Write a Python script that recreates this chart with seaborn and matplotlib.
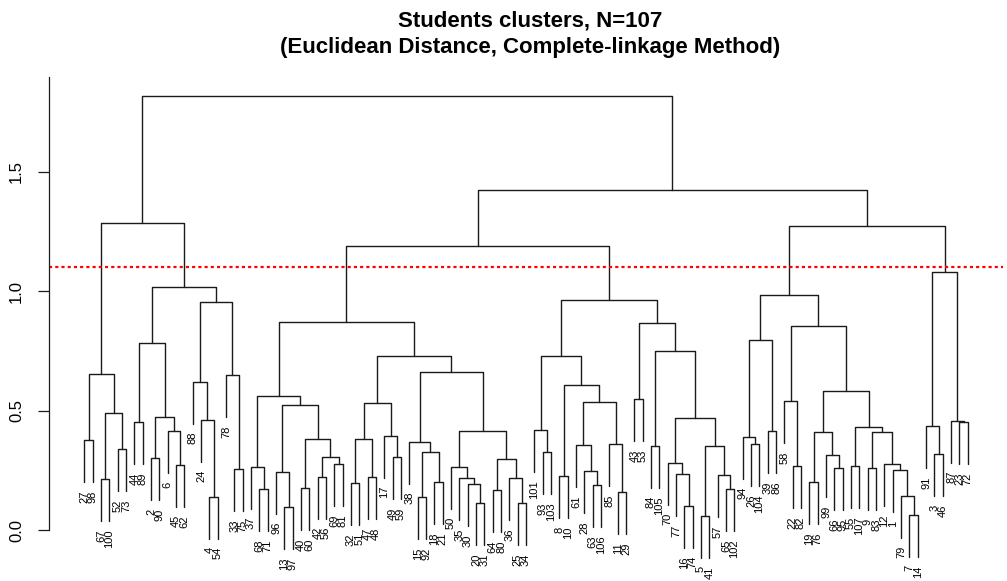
import numpy as np
import pandas as pd
import matplotlib
matplotlib.use("Agg")
import matplotlib.pyplot as plt
import seaborn as sns

# hclust style merge table: negative = student number, positive = row of an earlier merge (1-based)
merge_left = [-27, -67, -52, 2, 1, -44, -2, -45, -6, 7, 6, -4, -24, -88, -33, -78, 14, 11, 5,
              -68, -37, -13, -96, -40, -42, -69, 25, 24, 23, 21, -32, -47, 31, -49, -17, 33,
              -15, -18, 37, -38, -20, -30, -35, -50, -64, -25, -36, 45, 44, 40, 36, 30,
              -93, -101, -8, -63, -28, -61, -11, -85, 58, 55, 54, -43, -84, -16, -77, -70,
              -5, -65, -57, 69, 68, 65, 64, 63, 52,
              -26, -94, -39, 79, -22, -58, -19, -66, -99, 84, -55, -9, -7, -79, -1, -12,
              89, 88, 87, 83, 81, -3, -91, -23, -87, 100, 98, 77, 19]
merge_right = [-98, -100, -73, 3, 4, -89, -90, -62, 8, 9, 10, -54, 12, 13, -75, 15, 16, 17, 18,
               -71, 20, -97, 22, -60, -56, -81, 26, 27, 28, 29, -51, -48, 32, -59, 34, 35,
               -92, -21, 38, 39, -31, 41, 42, 43, -80, -34, 46, 47, 48, 49, 50, 51,
               -103, 53, -10, -106, 56, 57, -29, 59, 60, 61, 62, -53, -105, -74, 66, 67,
               -41, -102, 70, 71, 72, 73, 74, 75, 76,
               -104, 78, -86, 80, -82, 82, -76, -95, 85, 86, -107, -83, -14, 90, 91, 92,
               93, 94, 95, 96, 97, -46, 99, -72, 101, 102, 103, 104, 105]
merge_height = [0.377, 0.213, 0.340, 0.491, 0.653, 0.451, 0.301, 0.273, 0.413, 0.473, 0.781,
                0.139, 0.462, 0.621, 0.255, 0.647, 0.955, 1.018, 1.283,
                0.170, 0.265, 0.096, 0.244, 0.174, 0.223, 0.275, 0.305, 0.381, 0.522, 0.562,
                0.198, 0.220, 0.381, 0.305, 0.395, 0.531, 0.138, 0.202, 0.328, 0.370,
                0.112, 0.191, 0.218, 0.265, 0.167, 0.112, 0.218, 0.296, 0.413, 0.662,
                0.729, 0.869,
                0.325, 0.417, 0.225, 0.187, 0.248, 0.354, 0.160, 0.358, 0.537, 0.607,
                0.729, 0.547, 0.353, 0.102, 0.234, 0.282, 0.059, 0.170, 0.230, 0.351,
                0.470, 0.750, 0.865, 0.964, 1.190,
                0.360, 0.390, 0.413, 0.795, 0.268, 0.540, 0.199, 0.258, 0.314, 0.411,
                0.266, 0.258, 0.063, 0.144, 0.250, 0.276, 0.409, 0.431, 0.580, 0.854,
                0.983, 0.317, 0.435, 0.452, 0.458, 1.078, 1.273, 1.423, 1.817]

cut_height = 1.1
y_ticks = [0.0, 0.5, 1.0, 1.5]
title_lines = ["Students clusters, N=107", "(Euclidean Distance, Complete-linkage Method)"]

n_merge = len(merge_height)
n_leaf = n_merge + 1
hang = 0.1 * (max(merge_height) - min(merge_height))

# leaf order from walking the tree
order = []
def walk(k):
    if k < 0:
        order.append(-k)
        return
    walk(merge_left[k - 1])
    walk(merge_right[k - 1])
walk(n_merge)
leaf_pos = {lab: i + 1 for i, lab in enumerate(order)}

node_x = {}
def get_x(k):
    if k < 0:
        return leaf_pos[-k]
    if k not in node_x:
        node_x[k] = (get_x(merge_left[k - 1]) + get_x(merge_right[k - 1])) / 2
    return node_x[k]

rows = []
leaf_bottom = {}
for k in range(1, n_merge + 1):
    h = merge_height[k - 1]
    pts = []
    for child in (merge_left[k - 1], merge_right[k - 1]):
        cx = get_x(child)
        if child < 0:
            cy = h - hang
            leaf_bottom[-child] = cy
        else:
            cy = merge_height[child - 1]
        pts.append((cx, cy))
    (xl, yl), (xr, yr) = pts
    for i, (px, py) in enumerate([(xl, yl), (xl, h), (xr, h), (xr, yr)]):
        rows.append({"seg": k, "i": i, "x": px, "y": py})
seg = pd.DataFrame(rows)

sns.set_theme(style="white")
plt.rcParams["font.family"] = ["Liberation Sans", "DejaVu Sans"]

fig = plt.figure(figsize=(10.07, 5.81), dpi=100)
ymin = min(merge_height) - hang
ymax = max(merge_height)
pad = 0.04 * (ymax - ymin)
ax = fig.add_axes([49 / 1007, (581 - 576.4) / 581, 954 / 1007, (576.4 - 77.3) / 581])

sns.lineplot(data=seg, x="x", y="y", units="seg", estimator=None, sort=False,
             color="#1a1a1a", linewidth=1.0, ax=ax, legend=False)

for lab, pos in leaf_pos.items():
    ax.text(pos, leaf_bottom[lab] - 0.035, str(lab), rotation=90, ha="center", va="top",
            fontsize=8, color="black", clip_on=False)

ax.axhline(cut_height, color="red", linewidth=1.6, linestyle=(0, (1.4, 1.4)))

ax.set_xlim(1 - 0.04 * (n_leaf - 1), n_leaf + 0.04 * (n_leaf - 1))
ax.set_ylim(ymin - pad, ymax + pad)
ax.set_xticks([])
ax.set_yticks(y_ticks)
ax.set_yticklabels([f"{t:.1f}" for t in y_ticks], rotation=90, va="center")
ax.set_xlabel("")
ax.set_ylabel("")
for s in ["top", "right", "bottom"]:
    ax.spines[s].set_visible(False)
ax.spines["left"].set_bounds(y_ticks[0], ymax + pad)
ax.spines["left"].set_color("#1a1a1a")
ax.spines["left"].set_linewidth(0.9)
ax.tick_params(axis="y", direction="out", length=8, width=0.9, pad=10,
               labelsize=12, colors="#1a1a1a", labelcolor="black", left=True)

fig.text(530 / 1007, 1 - 26 / 581, title_lines[0], ha="center", va="baseline",
         fontsize=16, fontweight="bold", color="black")
fig.text(530 / 1007, 1 - 53 / 581, title_lines[1], ha="center", va="baseline",
         fontsize=16, fontweight="bold", color="black")

fig.savefig("out.png", dpi=100)
